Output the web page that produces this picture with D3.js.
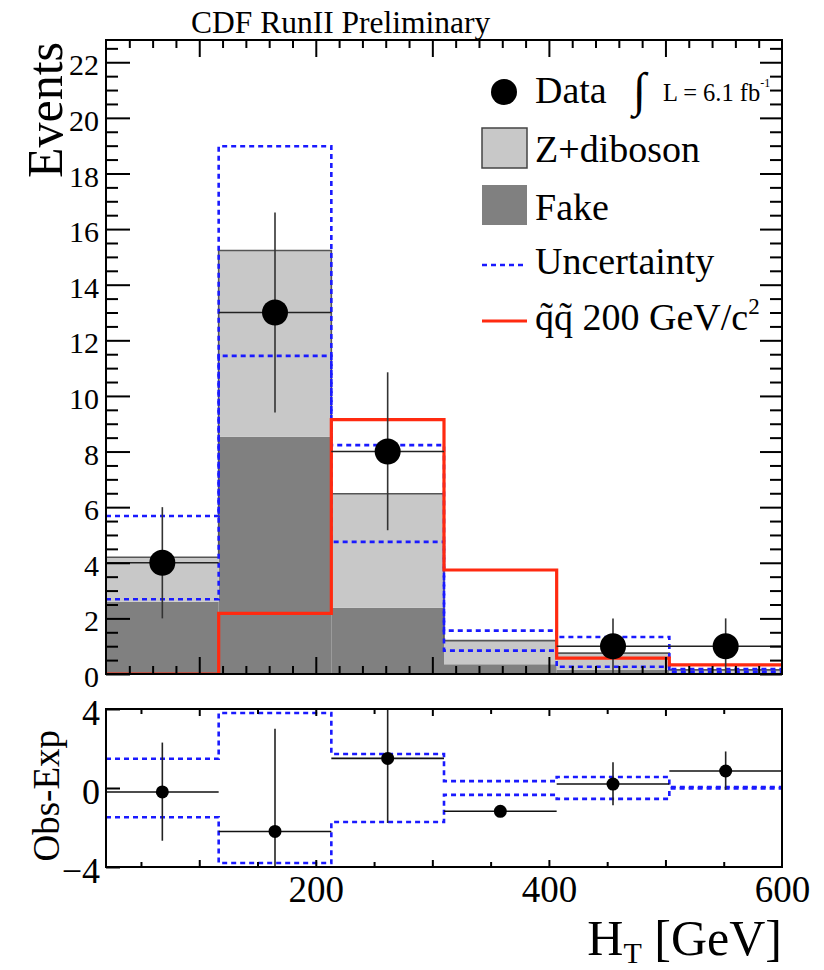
<!DOCTYPE html>
<html><head><meta charset="utf-8">
<script src="https://cdn.jsdelivr.net/npm/d3@7"></script>
<style>
body{margin:0;background:#fff}
svg{display:block}
text{font-family:"Liberation Serif","Times New Roman",serif;fill:#000}
</style>
</head><body>
<svg id="c" width="824" height="970"></svg>
<script>
// ---- data ----
const binEdges   = [20, 116.67, 213.33, 310, 406.67, 503.33, 600];
const dataCounts = [4, 13, 8, 0, 1, 1];
const dataErrHi  = [6.0, 16.6, 10.85, 0, 2.0, 2.0];
const dataErrLo  = [2.0, 9.4, 5.17, 0, 0, 0];
const fakeVals   = [2.6, 8.53, 2.38, 0.35, 0.15, 0.05];
const zdibVals   = [1.6, 6.7, 4.1, 0.85, 0.6, 0.1];
const uncUp      = [5.68, 18.98, 8.23, 1.56, 1.33, 0.18];
const uncDown    = [2.69, 11.44, 4.75, 0.84, 0.26, 0.08];
const signalVals = [0, 2.18, 9.15, 3.74, 0.57, 0.33];

const obsExp     = [-0.2, -2.2, 1.5, -1.18, 0.2, 0.86];
const obsExpHi   = [2.3, 3.0, 5.0, -1.18, 1.3, 1.85];
const obsExpLo   = [-2.67, -5.0, -1.77, -1.18, -0.87, -0.09];
const bandUp     = [1.48, 3.8, 1.72, 0.35, 0.56, 0.05];
const bandDown   = [-1.48, -3.8, -1.72, -0.35, -0.55, -0.02];

const yMajorTicks = [0,2,4,6,8,10,12,14,16,18,20,22];
const xTickLabels = [200, 400, 600];
const ratioYTicks = [-4, 0, 4];

// ---- setup ----
const svg = d3.select("#c");
const x  = d3.scaleLinear().domain([20, 600]).range([106, 782]);
const y  = d3.scaleLinear().domain([0, 22.8]).range([674, 40]);
const yr = d3.scaleLinear().domain([-4, 4]).range([867, 709]);

const bins = binEdges.slice(0, -1).map((lo, i) => ({i, lo, hi: binEdges[i + 1]}));

function stepPts(vals) {
  const p = bins.map((b, i) => [b.lo, vals[i]]);
  p.push([binEdges[binEdges.length - 1], vals[vals.length - 1]]);
  return p;
}
const stepLine = (ys) => d3.line().x(d => x(d[0])).y(d => ys(d[1])).curve(d3.curveStepAfter);

const defs = svg.append("defs");
defs.append("clipPath").attr("id", "clipTop").append("rect")
  .attr("x", 106).attr("y", 40).attr("width", 676).attr("height", 634);
defs.append("clipPath").attr("id", "clipBot").append("rect")
  .attr("x", 106).attr("y", 709).attr("width", 676).attr("height", 158);

// ---- top panel ----
const topG = svg.append("g").attr("clip-path", "url(#clipTop)");
const stack = d3.stack().keys(["fake", "zdib"])(bins.map((b, i) => ({fake: fakeVals[i], zdib: zdibVals[i]})));
const fills = {fake: "#808080", zdib: "#c8c8c8"};
stack.forEach(layer => {
  topG.append("g").selectAll("rect").data(layer).join("rect")
    .attr("x", (d, i) => x(bins[i].lo))
    .attr("width", (d, i) => x(bins[i].hi) - x(bins[i].lo))
    .attr("y", d => y(d[1]))
    .attr("height", d => y(d[0]) - y(d[1]))
    .attr("fill", fills[layer.key]);
});
const totals = stack[1].map(d => d[1]);
topG.append("path").attr("d", stepLine(y)(stepPts(totals)))
  .attr("fill", "none").attr("stroke", "#555").attr("stroke-width", 1.6);

[uncUp, uncDown].forEach(v => {
  topG.append("path").attr("d", stepLine(y)(stepPts(v)))
    .attr("fill", "none").attr("stroke", "#1a1aff").attr("stroke-width", 2.6)
    .attr("stroke-dasharray", "5,4");
});
topG.append("path").attr("d", stepLine(y)(stepPts(signalVals)))
  .attr("fill", "none").attr("stroke", "#ff2a10").attr("stroke-width", 3.2);

const dataBins = bins.filter(b => dataCounts[b.i] > 0);
topG.selectAll(".vbar").data(dataBins).join("line").attr("class", "vbar")
  .attr("x1", b => x((b.lo + b.hi) / 2)).attr("x2", b => x((b.lo + b.hi) / 2))
  .attr("y1", b => y(dataErrLo[b.i])).attr("y2", b => y(dataErrHi[b.i]))
  .attr("stroke", "#333").attr("stroke-width", 1.6);
topG.selectAll(".hbar").data(dataBins).join("line").attr("class", "hbar")
  .attr("x1", b => x(b.lo)).attr("x2", b => x(b.hi))
  .attr("y1", b => y(dataCounts[b.i])).attr("y2", b => y(dataCounts[b.i]))
  .attr("stroke", "#222").attr("stroke-width", 1.6);
topG.selectAll(".pt").data(dataBins).join("circle").attr("class", "pt")
  .attr("cx", b => x((b.lo + b.hi) / 2)).attr("cy", b => y(dataCounts[b.i]))
  .attr("r", 13).attr("fill", "#000");

// axes top panel
function addAxis(g, axis) { g.call(axis); g.select(".domain").remove(); g.selectAll("line").attr("stroke", "#000").attr("stroke-width", 2); return g; }
const yMinor = d3.range(0, 22.81, 0.5).filter(v => !yMajorTicks.includes(v));
const xMajor = [100, 200, 300, 400, 500];
const xMinor = d3.range(40, 600, 20).filter(v => !xMajor.includes(v));

const gyl = addAxis(svg.append("g").attr("transform", "translate(106,0)"),
  d3.axisLeft(y).tickValues(yMajorTicks).tickSize(-24).tickPadding(7));
gyl.attr("font-family", null);
gyl.selectAll("text").attr("font-size", 30).attr("dy", "0.42em")
  .style("font-family", '"Liberation Serif",serif');
addAxis(svg.append("g").attr("transform", "translate(106,0)"),
  d3.axisLeft(y).tickValues(yMinor).tickSize(-12).tickFormat(""));
addAxis(svg.append("g").attr("transform", "translate(782,0)"),
  d3.axisRight(y).tickValues(yMajorTicks).tickSize(-22).tickFormat(""));
addAxis(svg.append("g").attr("transform", "translate(782,0)"),
  d3.axisRight(y).tickValues(yMinor).tickSize(-12).tickFormat(""));
[[674, d3.axisBottom], [40, d3.axisTop]].forEach(([yy, ax]) => {
  addAxis(svg.append("g").attr("transform", `translate(0,${yy})`), ax(x).tickValues(xMajor).tickSize(-17).tickFormat(""));
  addAxis(svg.append("g").attr("transform", `translate(0,${yy})`), ax(x).tickValues(xMinor).tickSize(-8).tickFormat(""));
});
svg.append("rect").attr("x", 106).attr("y", 40).attr("width", 676).attr("height", 634)
  .attr("fill", "none").attr("stroke", "#000").attr("stroke-width", 2);

// ---- bottom panel ----
const botG = svg.append("g").attr("clip-path", "url(#clipBot)");
[bandUp, bandDown].forEach(v => {
  botG.append("path").attr("d", stepLine(yr)(stepPts(v)))
    .attr("fill", "none").attr("stroke", "#1a1aff").attr("stroke-width", 2.6)
    .attr("stroke-dasharray", "5,4");
});
botG.selectAll(".vbar").data(bins).join("line").attr("class", "vbar")
  .attr("x1", b => x((b.lo + b.hi) / 2)).attr("x2", b => x((b.lo + b.hi) / 2))
  .attr("y1", b => yr(obsExpLo[b.i])).attr("y2", b => yr(obsExpHi[b.i]))
  .attr("stroke", "#222").attr("stroke-width", 1.6);
botG.selectAll(".hbar").data(bins).join("line").attr("class", "hbar")
  .attr("x1", b => x(b.lo)).attr("x2", b => x(b.hi))
  .attr("y1", b => yr(obsExp[b.i])).attr("y2", b => yr(obsExp[b.i]))
  .attr("stroke", "#111").attr("stroke-width", 1.6);
botG.selectAll(".pt").data(bins).join("circle").attr("class", "pt")
  .attr("cx", b => x((b.lo + b.hi) / 2)).attr("cy", b => yr(obsExp[b.i]))
  .attr("r", 6.5).attr("fill", "#000");

const xr100 = [100, 200, 300, 400, 500];
const xr50 = [50, 150, 250, 350, 450, 550];
[[867, d3.axisBottom], [709, d3.axisTop]].forEach(([yy, ax]) => {
  addAxis(svg.append("g").attr("transform", `translate(0,${yy})`), ax(x).tickValues(xr100).tickSize(-7).tickFormat(""));
  addAxis(svg.append("g").attr("transform", `translate(0,${yy})`), ax(x).tickValues(xr50).tickSize(-5).tickFormat(""));
});
const gry = addAxis(svg.append("g").attr("transform", "translate(106,0)"),
  d3.axisLeft(yr).tickValues(ratioYTicks).tickSize(-14).tickPadding(6));
gry.attr("font-family", null);
gry.selectAll("text").attr("font-size", 36).attr("dy", "0.42em")
  .style("font-family", '"Liberation Serif",serif');
const grx = addAxis(svg.append("g").attr("transform", "translate(0,867)"),
  d3.axisBottom(x).tickValues(xTickLabels).tickSize(0).tickPadding(9));
grx.attr("font-family", null);
grx.selectAll("text").attr("font-size", 37).attr("dy", "0.71em")
  .style("font-family", '"Liberation Serif",serif');
svg.append("rect").attr("x", 106).attr("y", 709).attr("width", 676).attr("height", 158)
  .attr("fill", "none").attr("stroke", "#000").attr("stroke-width", 2);

// ---- titles ----
svg.append("text").attr("x", 191).attr("y", 33).attr("font-size", 31.5).text("CDF RunII Preliminary");
svg.append("text").attr("transform", "translate(62,42) rotate(-90)").attr("text-anchor", "end")
  .attr("font-size", 50).text("Events");
svg.append("text").attr("transform", "translate(59,730) rotate(-90)").attr("text-anchor", "end")
  .attr("font-size", 37).text("Obs-Exp");
const xt = svg.append("text").attr("x", 782).attr("y", 955).attr("text-anchor", "end").attr("font-size", 50);
xt.append("tspan").text("H");
xt.append("tspan").attr("font-size", 30).attr("dy", 8).text("T");
xt.append("tspan").attr("dy", -8).text(" [GeV]");

// ---- legend ----
const lg = svg.append("g");
lg.append("circle").attr("cx", 504).attr("cy", 92).attr("r", 13).attr("fill", "#000");
lg.append("text").attr("x", 535).attr("y", 103).attr("font-size", 38).text("Data");
lg.append("text").attr("x", 633).attr("y", 106).attr("font-size", 48).text("∫");
const lum = lg.append("text").attr("x", 663).attr("y", 101).attr("font-size", 24.5);
lum.append("tspan").text("L = 6.1 fb");
lum.append("tspan").attr("font-size", 12).attr("dy", -14).text("-1");
lg.append("rect").attr("x", 482).attr("y", 128).attr("width", 45).attr("height", 40)
  .attr("fill", "#c8c8c8").attr("stroke", "#444").attr("stroke-width", 1.5);
lg.append("text").attr("x", 535).attr("y", 162).attr("font-size", 38).text("Z+diboson");
lg.append("rect").attr("x", 482).attr("y", 185).attr("width", 45).attr("height", 40).attr("fill", "#808080");
lg.append("text").attr("x", 535).attr("y", 220).attr("font-size", 38).text("Fake");
lg.append("line").attr("x1", 482).attr("x2", 527).attr("y1", 265).attr("y2", 265)
  .attr("stroke", "#1a1aff").attr("stroke-width", 2.6).attr("stroke-dasharray", "5,4");
lg.append("text").attr("x", 535).attr("y", 274).attr("font-size", 38).text("Uncertainty");
lg.append("line").attr("x1", 482).attr("x2", 527).attr("y1", 321).attr("y2", 321)
  .attr("stroke", "#ff2a10").attr("stroke-width", 3.2);
const st = lg.append("text").attr("x", 535).attr("y", 330).attr("font-size", 38);
st.append("tspan").text("q\u0303q\u0303 200 GeV/c");
st.append("tspan").attr("font-size", 23).attr("dy", -16).text("2");
</script>
</body></html>
